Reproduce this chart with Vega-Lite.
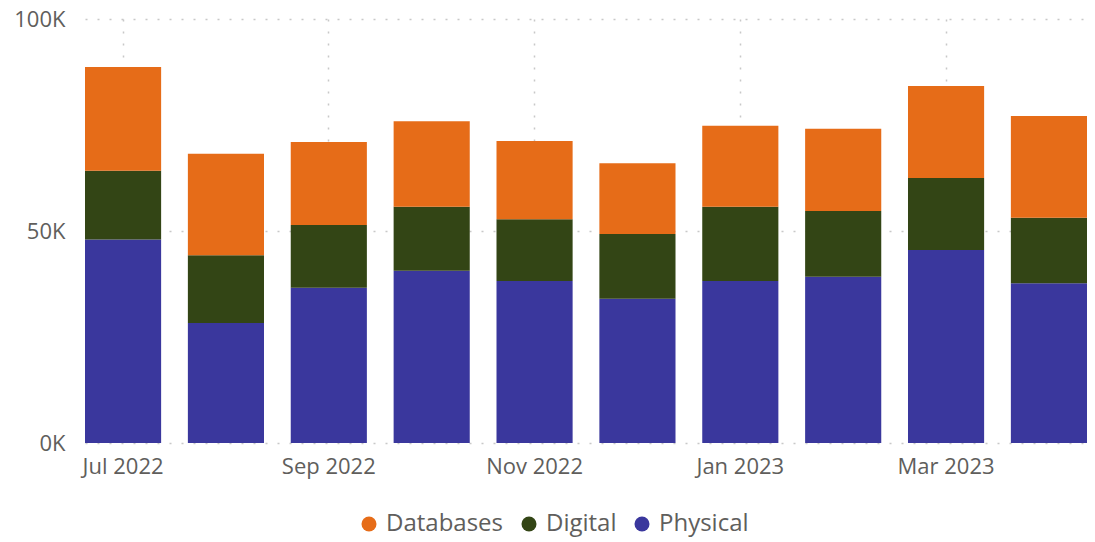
{
  "$schema": "https://vega.github.io/schema/vega-lite/v6.json",
  "width": 1002,
  "height": 424,
  "autosize": {"type": "none"},
  "padding": {"left": 85, "top": 19, "right": 8, "bottom": 99},
  "background": "white",
  "config": {
    "view": {"stroke": null},
    "font": "Open Sans"
  },
  "data": {
    "values": [
      {"month": "Jul 2022", "category": "Physical", "value": 48000},
      {"month": "Jul 2022", "category": "Digital", "value": 16200},
      {"month": "Jul 2022", "category": "Databases", "value": 24500},
      {"month": "Aug 2022", "category": "Physical", "value": 28300},
      {"month": "Aug 2022", "category": "Digital", "value": 16000},
      {"month": "Aug 2022", "category": "Databases", "value": 23900},
      {"month": "Sep 2022", "category": "Physical", "value": 36600},
      {"month": "Sep 2022", "category": "Digital", "value": 14800},
      {"month": "Sep 2022", "category": "Databases", "value": 19600},
      {"month": "Oct 2022", "category": "Physical", "value": 40600},
      {"month": "Oct 2022", "category": "Digital", "value": 15100},
      {"month": "Oct 2022", "category": "Databases", "value": 20200},
      {"month": "Nov 2022", "category": "Physical", "value": 38200},
      {"month": "Nov 2022", "category": "Digital", "value": 14600},
      {"month": "Nov 2022", "category": "Databases", "value": 18400},
      {"month": "Dec 2022", "category": "Physical", "value": 34000},
      {"month": "Dec 2022", "category": "Digital", "value": 15300},
      {"month": "Dec 2022", "category": "Databases", "value": 16700},
      {"month": "Jan 2023", "category": "Physical", "value": 38200},
      {"month": "Jan 2023", "category": "Digital", "value": 17500},
      {"month": "Jan 2023", "category": "Databases", "value": 19100},
      {"month": "Feb 2023", "category": "Physical", "value": 39200},
      {"month": "Feb 2023", "category": "Digital", "value": 15500},
      {"month": "Feb 2023", "category": "Databases", "value": 19400},
      {"month": "Mar 2023", "category": "Physical", "value": 45500},
      {"month": "Mar 2023", "category": "Digital", "value": 17000},
      {"month": "Mar 2023", "category": "Databases", "value": 21700},
      {"month": "Apr 2023", "category": "Physical", "value": 37700},
      {"month": "Apr 2023", "category": "Digital", "value": 15400},
      {"month": "Apr 2023", "category": "Databases", "value": 24000}
    ]
  },
  "mark": {"type": "bar"},
  "encoding": {
    "x": {
      "field": "month",
      "type": "ordinal",
      "sort": null,
      "scale": {"paddingInner": 0.26, "paddingOuter": 0},
      "axis": {
        "title": null,
        "values": ["Jul 2022", "Sep 2022", "Nov 2022", "Jan 2023", "Mar 2023"],
        "labelAngle": 0,
        "labelFontSize": 22,
        "labelColor": "#605E5C",
        "labelPadding": 13,
        "domain": false,
        "ticks": false,
        "grid": true,
        "bandPosition": 0.5,
        "gridColor": "#C8C8C8",
        "gridDash": [2, 10],
        "gridWidth": 1.5
      }
    },
    "y": {
      "field": "value",
      "type": "quantitative",
      "stack": "zero",
      "scale": {"domain": [0, 100000]},
      "axis": {
        "title": null,
        "values": [0, 50000, 100000],
        "labelExpr": "datum.value / 1000 + 'K'",
        "labelFontSize": 22,
        "labelColor": "#605E5C",
        "labelPadding": 20,
        "domain": false,
        "ticks": false,
        "gridColor": "#C8C8C8",
        "gridDash": [2, 10],
        "gridWidth": 1.5
      }
    },
    "color": {
      "field": "category",
      "type": "nominal",
      "scale": {
        "domain": ["Databases", "Digital", "Physical"],
        "range": ["#E66C18", "#334515", "#3A379D"]
      },
      "legend": {
        "title": null,
        "orient": "none",
        "direction": "horizontal",
        "legendX": 272,
        "legendY": 493,
        "symbolType": "circle",
        "symbolSize": 225,
        "symbolStrokeWidth": 0,
        "symbolOpacity": 1,
        "labelFontSize": 24,
        "labelColor": "#605E5C",
        "labelOffset": 5,
        "columnPadding": 13,
        "padding": 0
      }
    },
    "order": {"field": "category", "sort": "descending"}
  }
}
